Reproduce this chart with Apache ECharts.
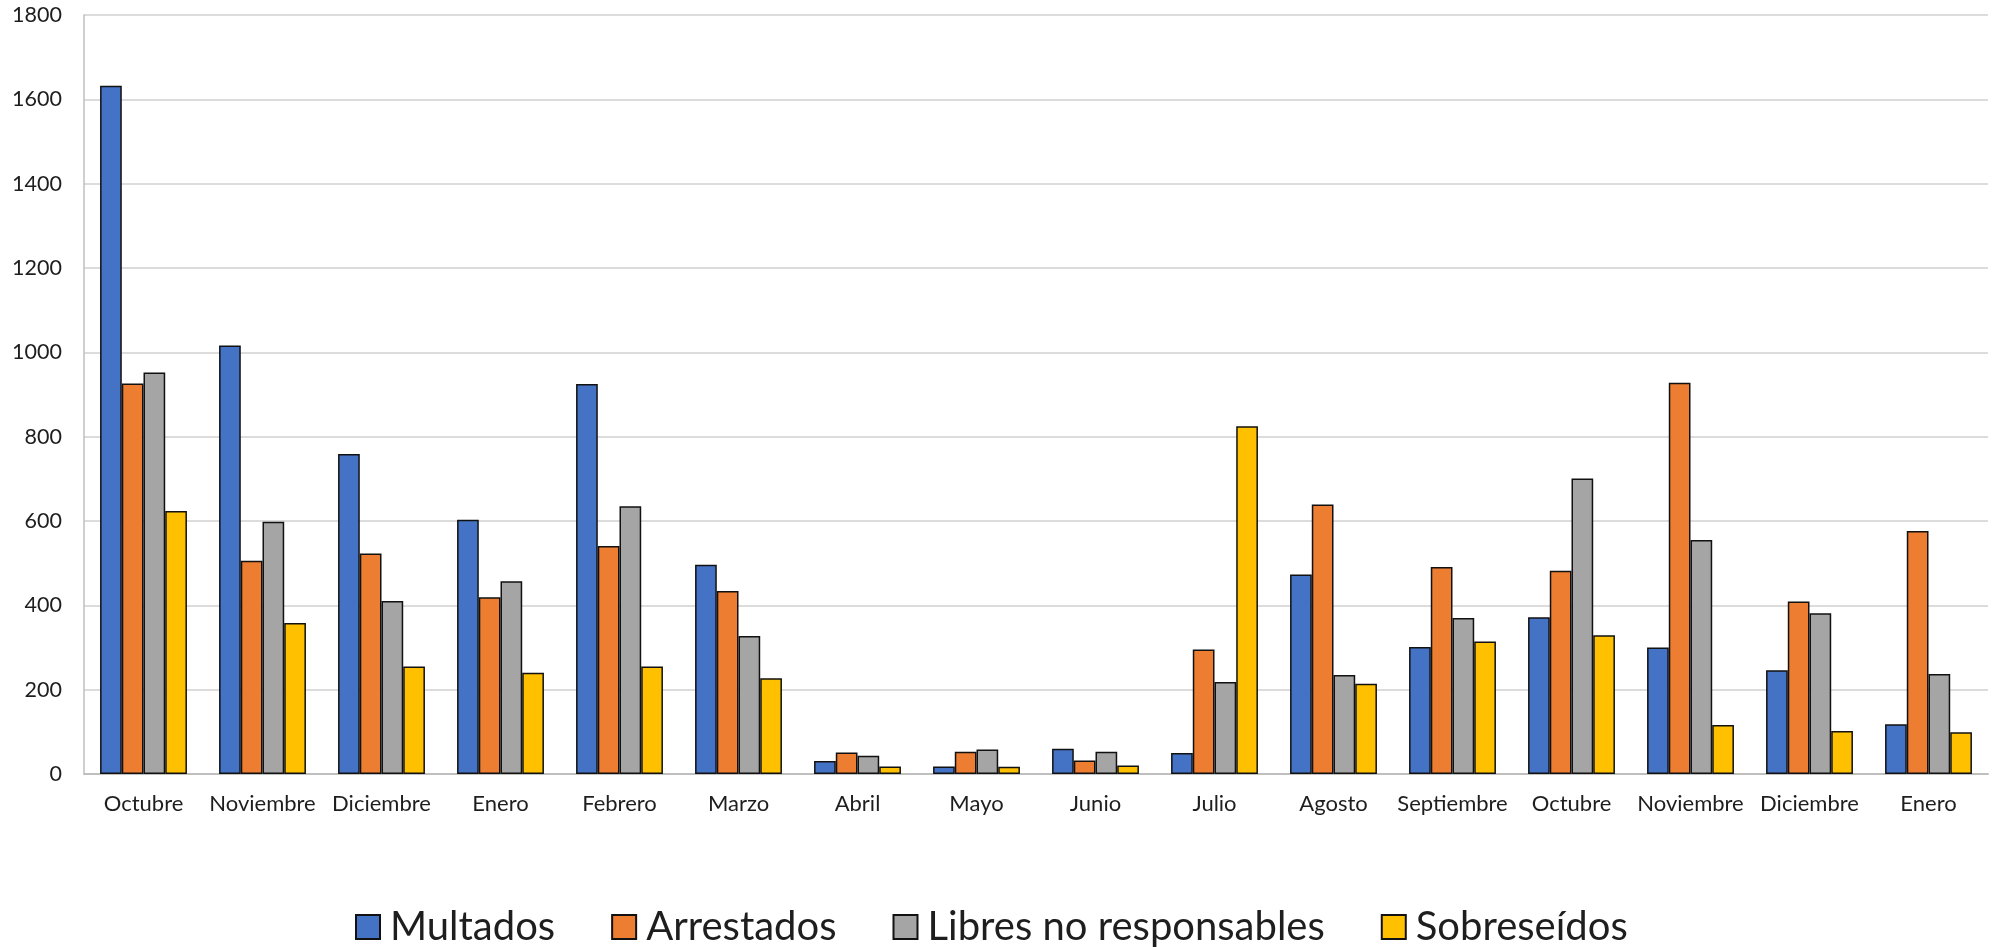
<!DOCTYPE html>
<html>
<head>
<meta charset="utf-8">
<script src="https://cdn.jsdelivr.net/npm/echarts@6/dist/echarts.min.js"></script>
<style>
  html, body { margin: 0; padding: 0; background: #ffffff; }
  #chart { width: 2002px; height: 947px; }
</style>
</head>
<body>
<div id="chart"></div>
<script>
const categories = ['Octubre', 'Noviembre', 'Diciembre', 'Enero', 'Febrero', 'Marzo', 'Abril', 'Mayo', 'Junio', 'Julio', 'Agosto', 'Septiembre', 'Octubre', 'Noviembre', 'Diciembre', 'Enero'];
const multados = [1632, 1016, 759, 603, 925, 496, 31, 18, 60, 50, 473, 301, 372, 300, 246, 118];
const arrestados = [926, 506, 523, 419, 541, 434, 51, 53, 32, 295, 639, 491, 482, 928, 409, 576];
const libresNoResponsables = [952, 598, 410, 457, 635, 327, 43, 58, 53, 218, 235, 370, 701, 555, 381, 237];
const sobreseidos = [624, 358, 255, 240, 255, 227, 18, 17, 20, 825, 214, 314, 329, 116, 102, 99];
const seriesNames = ['Multados', 'Arrestados', 'Libres no responsables', 'Sobreseídos'];
const seriesColors = ['#4472C4', '#ED7D31', '#A5A5A5', '#FFC000'];
const yTicks = { min: 0, max: 1800, interval: 200 };

const seriesData = [multados, arrestados, libresNoResponsables, sobreseidos];
const chart = echarts.init(document.getElementById('chart'), null, { renderer: 'canvas' });
const font = 'Lato, "Open Sans", sans-serif';

chart.setOption({
  backgroundColor: '#ffffff',
  animation: false,
  textStyle: { fontFamily: font },
  grid: { left: 84, right: 14, top: 15, bottom: 173, containLabel: false },
  legend: {
    data: seriesNames,
    left: 350,
    top: 902,
    icon: 'rect',
    itemWidth: 24,
    itemHeight: 24,
    itemGap: 56,
    textStyle: { fontFamily: font, fontSize: 40, color: '#1e1e1e', padding: [0, 0, 0, 5] }
  },
  xAxis: {
    type: 'category',
    data: categories,
    axisLine: { show: true, lineStyle: { color: '#bfbfbf', width: 2 } },
    axisTick: { show: false },
    axisLabel: { fontFamily: font, fontSize: 22, color: '#1e1e1e', margin: 19, interval: 0 },
    splitLine: { show: false }
  },
  yAxis: {
    type: 'value',
    min: yTicks.min,
    max: yTicks.max,
    interval: yTicks.interval,
    axisLine: { show: true, lineStyle: { color: '#bfbfbf', width: 1.5 } },
    axisTick: { show: false },
    axisLabel: { fontFamily: font, fontSize: 21.5, color: '#1e1e1e', margin: 22, formatter: v => String(v) },
    splitLine: { show: true, lineStyle: { color: '#d0d0d0', width: 1.5 } }
  },
  series: seriesNames.map((name, i) => ({
    name: name,
    type: 'bar',
    data: seriesData[i],
    barGap: '0%',
    barCategoryGap: '27%',
    itemStyle: { color: seriesColors[i], borderColor: '#111111', borderWidth: 1.5 }
  }))
});
</script>
</body>
</html>
